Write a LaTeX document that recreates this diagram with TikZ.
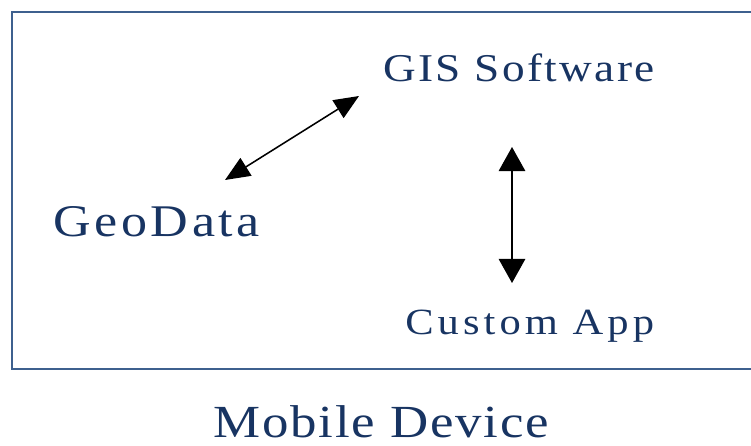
\documentclass[tikz,border=0pt]{standalone}
\usepackage{fontspec}
\setmainfont{Liberation Serif}[FakeStretch=1.15]
\usetikzlibrary{arrows.meta}

\definecolor{txtblue}{RGB}{24,52,98}
\definecolor{boxblue}{RGB}{62,96,142}
\tikzset{
  lbl/.style={text=txtblue, inner sep=0pt, anchor=base west},
  link/.style={line width=1.1pt, {Triangle[length=0.62cm,width=0.52cm]}-{Triangle[length=0.62cm,width=0.52cm]}},
  uplink/.style={line width=1.1pt, {Triangle[length=0.6cm,width=0.66cm]}-{Triangle[length=0.6cm,width=0.66cm]}}
}
\newcommand{\spaced}[3]{\fontsize{#1}{#2}\selectfont\addfontfeatures{LetterSpace=#3}}

\begin{document}
\begin{tikzpicture}[x=0.025cm,y=-0.025cm]
\useasboundingbox (0,0) rectangle (751,446);
% device frame, open to the right
\draw[boxblue, line width=1.4pt] (751,12) -- (12,12) -- (12,369) -- (751,369);
\node[lbl, font=\spaced{28}{33}{6}] (gis) at (383,82) {GIS Software};
\node[lbl, font=\spaced{32.2}{38}{8}] (geo) at (53,237) {GeoData};
\node[lbl, font=\spaced{26.3}{31}{11}] (app) at (405,334) {Custom App};
\node[lbl, font=\spaced{32.7}{40}{4}] (dev) at (213,437) {Mobile Device};
\coordinate (geoend) at (225,180);
\coordinate (gisend) at (359,96);
\coordinate (gisdown) at (512,147);
\coordinate (appup) at (512,283);
\draw[link] (geoend) -- (gisend);
\draw[uplink] (gisdown) -- (appup);
\end{tikzpicture}
\end{document}
